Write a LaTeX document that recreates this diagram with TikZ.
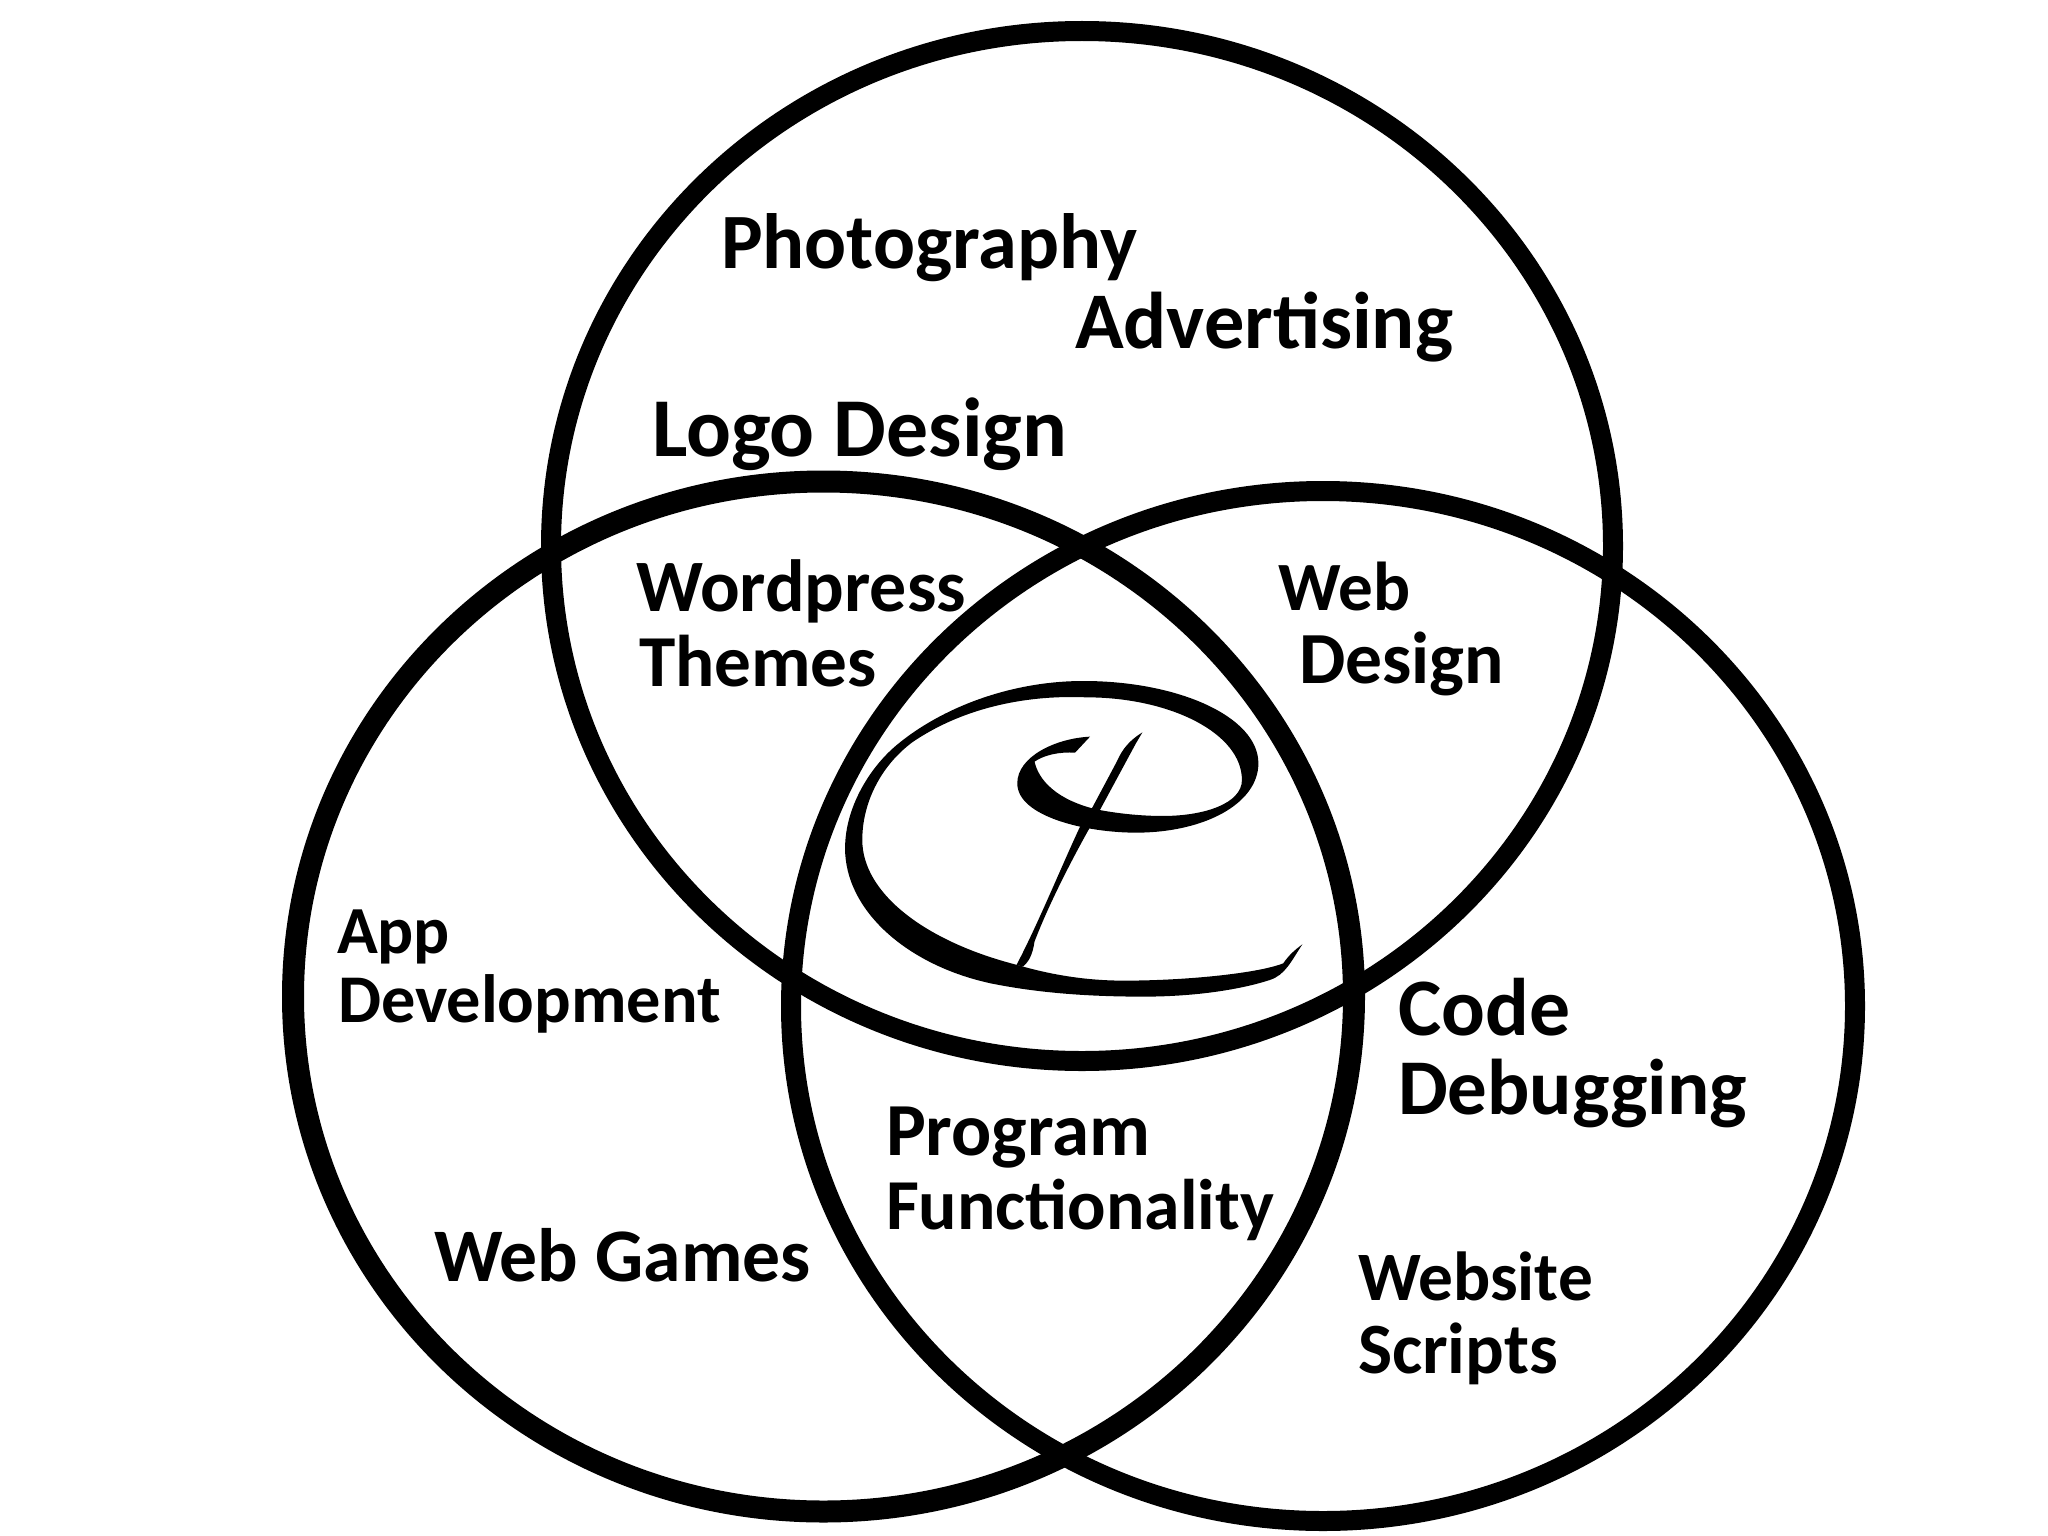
\documentclass[tikz,border=0pt]{standalone}
\usepackage{fontspec}
\usepackage{graphicx}
\setmainfont{Carlito}
\newcommand{\fitw}[2]{\resizebox{#1pt}{!}{\bfseries #2}}
\tikzset{
  x=1pt,y=-1pt,
  ring/.style={draw=black,line width=20pt},
  lab/.style={anchor=base west,inner sep=0pt,outer sep=0pt,text=black},
}
\begin{document}
\begin{tikzpicture}
\useasboundingbox (0,0) rectangle (2048,1536);
\fill[white] (0,0) rectangle (2048,1536);
% rings
\draw[ring] (1082,546) ellipse [x radius=531,y radius=515];
\draw[ring,line width=22pt] (823.5,996.5) ellipse [x radius=530.5,y radius=515];
\draw[ring] (1323,1006) ellipse [x radius=532,y radius=515];
% monogram
\begin{scope}[shift={(780,640)},x=0.3827pt,y=-0.3333pt]
\fill[black] (1365,913)
 .. controls (1335,965) and (1320,1005) .. (1280,1020)
 .. controls (1200,1050) and (1080,1070) .. (950,1070)
 .. controls (800,1070) and (670,1058) .. (550,1030)
 .. controls (330,975) and (170,810) .. (170,625)
 .. controls (170,505) and (232,385) .. (305,315)
 .. controls (420,205) and (600,123) .. (793,123)
 .. controls (1040,123) and (1250,230) .. (1250,370)
 .. controls (1250,490) and (1110,578) .. (930,578)
 .. controls (800,578) and (620,530) .. (620,430)
 .. controls (620,350) and (720,295) .. (810,290)
 -- (771,338)
 .. controls (730,335) and (690,345) .. (665,365)
 .. controls (680,440) and (750,490) .. (835,510)
 .. controls (890,522) and (950,528) .. (1000,528)
 .. controls (1110,528) and (1207,490) .. (1207,420)
 .. controls (1207,280) and (1020,172) .. (800,172)
 .. controls (660,165) and (490,195) .. (348,305)
 .. controls (270,370) and (215,480) .. (215,600)
 .. controls (215,760) and (380,905) .. (620,975)
 .. controls (710,1005) and (800,1022) .. (900,1022)
 .. controls (1060,1022) and (1250,1000) .. (1315,970)
 .. controls (1330,945) and (1345,930) .. (1365,913) -- cycle;
\fill[black] (947,277)
 .. controls (915,300) and (895,325) .. (880,365)
 -- (815,505) -- (784,560)
 .. controls (735,680) and (675,850) .. (618,975)
 -- (635,980)
 .. controls (650,965) and (660,945) .. (665,905)
 .. controls (700,800) and (755,675) .. (806,570)
 -- (836,510) -- (930,310) -- cycle;
\end{scope}
% labels
\node[lab] (photo) at (721,268) {\fitw{416}{Photography}};
\node[lab] (adv) at (1075,348) {\fitw{378}{Advertising}};
\node[lab] (logo) at (652,456) {\fitw{415}{Logo Design}};
\node[lab] (word) at (636,611) {\fitw{330}{Wordpress}};
\node[lab] (them) at (639,686) {\fitw{238}{Themes}};
\node[lab] (web) at (1278,610) {\fitw{132}{Web}};
\node[lab] (des) at (1299,683) {\fitw{205}{Design}};
\node[lab] (app) at (337,953) {\fitw{113}{App}};
\node[lab] (dev) at (338,1022) {\fitw{383}{Development}};
\node[lab] (code) at (1398,1035) {\fitw{172}{Code}};
\node[lab] (debug) at (1398,1114) {\fitw{349}{Debugging}};
\node[lab] (prog) at (886,1155) {\fitw{264}{Program}};
\node[lab] (func) at (886,1229) {\fitw{388}{Functionality}};
\node[lab] (games) at (434,1281) {\fitw{377}{Web Games}};
\node[lab] (site) at (1358,1300) {\fitw{235}{Website}};
\node[lab] (scr) at (1358,1373) {\fitw{200}{Scripts}};
\end{tikzpicture}
\end{document}
